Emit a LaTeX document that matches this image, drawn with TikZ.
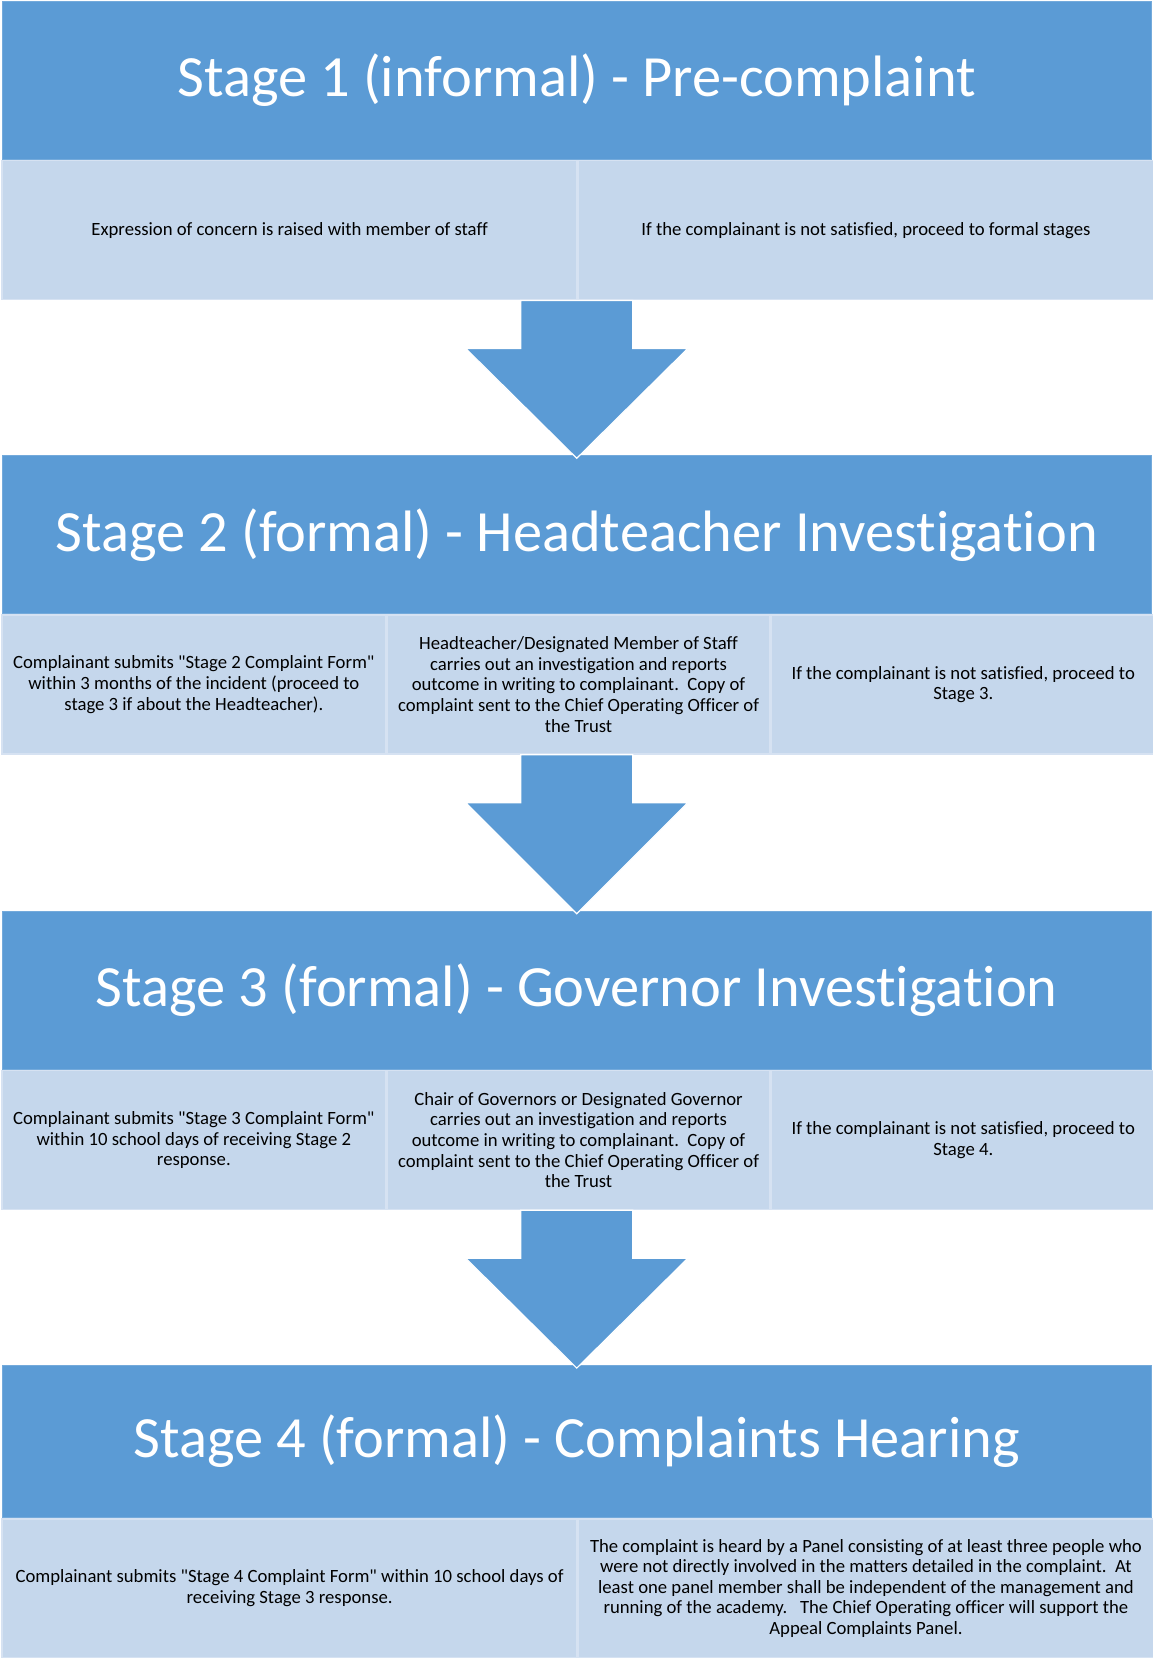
\documentclass[tikz,border=0pt]{standalone}
\usepackage{fontspec}
\setmainfont{Carlito}[Ligatures={TeXOff,NoCommon}]
\usetikzlibrary{calc}
\definecolor{headblue}{RGB}{91,155,213}
\definecolor{cellblue}{RGB}{197,215,236}
\definecolor{celledge}{RGB}{214,226,242}
\tikzset{
  stagehead/.style={fill=headblue,draw=headblue!85!white,line width=0.5pt,text=white,
    anchor=north west,inner sep=0pt,minimum width=574.75pt,minimum height=79pt,
    font=\fontsize{29.2}{34}\selectfont},
  stagecell/.style={fill=cellblue,draw=celledge,line width=0.75pt,anchor=north west,
    inner sep=0pt,align=center,minimum height=69.5pt,
    font=\fontsize{9.35}{10.3}\selectfont},
  twocell/.style={stagecell,minimum width=287.4pt},
  threecell/.style={stagecell,minimum width=191.6pt},
  stagearrow/.style={fill=headblue,draw=white,line width=0.6pt,line join=miter}
}
\begin{document}
\begin{tikzpicture}[x=0.5pt,y=-0.5pt]
\useasboundingbox (0,0) rectangle (1152,1658);
% stage 1
\node[stagehead] (h1) at (1.5,1) {Stage 1 (informal) - Pre-complaint};
\node[twocell] (b1a) at (h1.south west) {Expression of concern is raised with member of staff};
\node[twocell] (b1b) at (b1a.north east) {If the complainant is not satisfied, proceed to formal stages};
% stage 2
\node[stagehead] (h2) at ([yshift=-77.4pt]b1a.south west) {Stage 2 (formal) - Headteacher Investigation};
\node[threecell] (b2a) at (h2.south west) {Complainant submits "Stage 2 Complaint Form"\\ within 3 months of the incident (proceed to\\ stage 3 if about the Headteacher).};
\node[threecell] (b2b) at (b2a.north east) {Headteacher/Designated Member of Staff\\ carries out an investigation and reports\\ outcome in writing to complainant.\ \ Copy of\\ complaint sent to the Chief Operating Officer of\\ the Trust};
\node[threecell] (b2c) at (b2b.north east) {If the complainant is not satisfied, proceed to\\ Stage 3.};
% stage 3
\node[stagehead] (h3) at ([yshift=-78pt]b2a.south west) {Stage 3 (formal) - Governor Investigation};
\node[threecell] (b3a) at (h3.south west) {Complainant submits "Stage 3 Complaint Form"\\ within 10 school days of receiving Stage 2\\ response.};
\node[threecell] (b3b) at (b3a.north east) {Chair of Governors or Designated Governor\\ carries out an investigation and reports\\ outcome in writing to complainant.\ \ Copy of\\ complaint sent to the Chief Operating Officer of\\ the Trust};
\node[threecell] (b3c) at (b3b.north east) {If the complainant is not satisfied, proceed to\\ Stage 4.};
% stage 4
\node[stagehead,minimum height=76pt] (h4) at ([yshift=-77.4pt]b3a.south west) {Stage 4 (formal) - Complaints Hearing};
\node[twocell] (b4a) at (h4.south west) {Complainant submits "Stage 4 Complaint Form" within 10 school days of\\ receiving Stage 3 response.};
\node[twocell] (b4b) at (b4a.north east) {The complaint is heard by a Panel consisting of at least three people who\\ were not directly involved in the matters detailed in the complaint.\ \ At\\ least one panel member shall be independent of the management and\\ running of the academy.\ \ \ The Chief Operating officer will support the\\ Appeal Complaints Panel.};
% block arrows between the stages
\foreach \i/\j in {1/2,2/3,3/4}{
  \coordinate (t\i) at (h\i.center |- b\i a.south);
  \fill[stagearrow] ($(t\i)+(-56,0)$) -- ($(t\i)+(56,0)$) -- ($(t\i)+(56,48)$)
    -- ($(t\i)+(111,48)$) -- ([yshift=-1.5pt]h\j.north) -- ($(t\i)+(-111,48)$)
    -- ($(t\i)+(-56,48)$) -- cycle;
}
\end{tikzpicture}
\end{document}
